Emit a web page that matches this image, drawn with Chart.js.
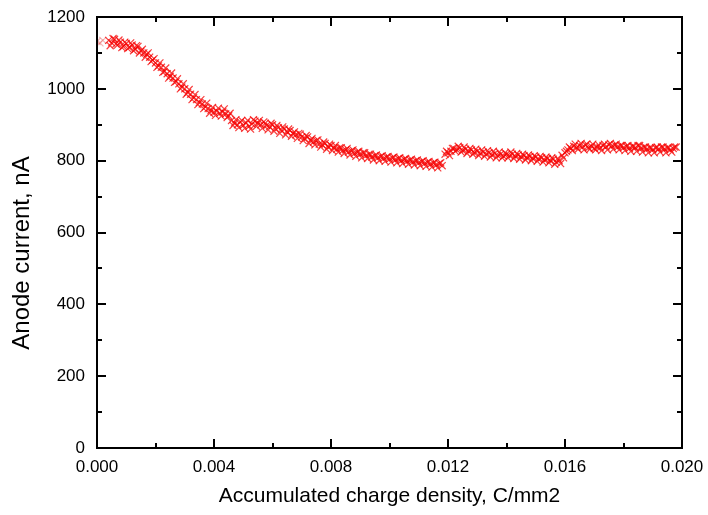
<!DOCTYPE html>
<html>
<head>
<meta charset="utf-8">
<script src="https://cdn.jsdelivr.net/npm/chart.js@4/dist/chart.umd.min.js"></script>
<style>
  html, body { margin: 0; padding: 0; background: #fff; }
  #wrap { width: 708px; height: 515px; }
</style>
</head>
<body>
<div id="wrap"><canvas id="c" width="708" height="515"></canvas></div>
<script>
// ---- Data ----
const chargeDensity = [
  0.0000, 0.0001, 0.0002,
  0.0004, 0.0005, 0.0006, 0.0007, 0.0008, 0.0009, 0.0010, 0.0011, 0.0012, 0.0013, 0.0014, 0.0015,
  0.0016, 0.0017, 0.0018, 0.0019, 0.0020, 0.0021, 0.0022, 0.0023, 0.0024, 0.0025, 0.0026, 0.0027,
  0.0028, 0.0029, 0.0030, 0.0031, 0.0032, 0.0033, 0.0034, 0.0035, 0.0036, 0.0037, 0.0038, 0.0039,
  0.0040, 0.0041, 0.0042, 0.0043, 0.0044, 0.0045, 0.0046, 0.0047, 0.0048, 0.0049, 0.0050, 0.0051,
  0.0052, 0.0053, 0.0054, 0.0055, 0.0056, 0.0057, 0.0058, 0.0059, 0.0060, 0.0061, 0.0062, 0.0063,
  0.0064, 0.0065, 0.0066, 0.0067, 0.0068, 0.0069, 0.0070, 0.0071, 0.0072, 0.0073, 0.0074, 0.0075,
  0.0076, 0.0077, 0.0078, 0.0079, 0.0080, 0.0081, 0.0082, 0.0083, 0.0084, 0.0085, 0.0086, 0.0087,
  0.0088, 0.0089, 0.0090, 0.0091, 0.0092, 0.0093, 0.0094, 0.0095, 0.0096, 0.0097, 0.0098, 0.0099,
  0.0100, 0.0101, 0.0102, 0.0103, 0.0104, 0.0105, 0.0106, 0.0107, 0.0108, 0.0109, 0.0110, 0.0111,
  0.0112, 0.0113, 0.0114, 0.0115, 0.0116, 0.0117, 0.0118,
  0.0119, 0.0120, 0.0121, 0.0122, 0.0123, 0.0124, 0.0125, 0.0126, 0.0127, 0.0128, 0.0129, 0.0130,
  0.0131, 0.0132, 0.0133, 0.0134, 0.0135, 0.0136, 0.0137, 0.0138, 0.0139, 0.0140, 0.0141, 0.0142,
  0.0143, 0.0144, 0.0145, 0.0146, 0.0147, 0.0148, 0.0149, 0.0150, 0.0151, 0.0152, 0.0153, 0.0154,
  0.0155, 0.0156, 0.0157, 0.0158, 0.0159, 0.0160, 0.0161, 0.0162, 0.0163, 0.0164, 0.0165, 0.0166,
  0.0167, 0.0168, 0.0169, 0.0170, 0.0171, 0.0172, 0.0173, 0.0174, 0.0175, 0.0176, 0.0177, 0.0178,
  0.0179, 0.0180, 0.0181, 0.0182, 0.0183, 0.0184, 0.0185, 0.0186, 0.0187, 0.0188, 0.0189, 0.0190,
  0.0191, 0.0192, 0.0193, 0.0194, 0.0195, 0.0196, 0.0197, 0.0198
];
const anodeCurrent = [
  1132, 1128, 1135,
  1135, 1128, 1138, 1122, 1130, 1118, 1126, 1115, 1122, 1110, 1118, 1105,
  1100, 1096, 1088, 1080, 1072, 1064, 1060, 1048, 1042, 1035, 1030, 1020,
  1014, 1005, 1000, 990, 985, 975, 970, 962, 958, 950, 945, 940,
  935, 938, 932, 936, 930, 925, 912, 905, 900, 908, 898, 905,
  896, 902, 910, 905, 900, 908, 898, 895, 900, 890, 892, 885,
  888, 880, 884, 876, 872, 876, 866, 862, 866, 856, 852, 856,
  846, 844, 848, 838, 842, 836, 832, 836, 828, 830, 824, 828,
  820, 824, 818, 822, 814, 818, 810, 814, 808, 812, 806, 810,
  804, 808, 802, 806, 800, 804, 798, 802, 796, 800, 794, 798,
  792, 796, 790, 794, 788, 792, 786,
  818, 822, 826, 834, 830, 836, 828, 832, 826, 830, 822, 826,
  820, 824, 818, 822, 816, 820, 814, 818, 812, 818, 814, 818,
  812, 816, 810, 814, 808, 812, 806, 810, 804, 808, 802, 806,
  800, 804, 796, 800, 815, 822, 830, 834, 840, 836, 842, 838,
  844, 836, 840, 834, 838, 836, 842, 838, 844, 840, 844, 838,
  842, 836, 840, 834, 840, 836, 842, 834, 838, 832, 836, 830,
  836, 832, 838, 832, 836, 830, 834, 838
];
// interleaved readings (between the ones above)
const chargeDensityB = [
  0.00045, 0.00055, 0.00065, 0.00075, 0.00085, 0.00095, 0.00105, 0.00115, 0.00125, 0.00135, 0.00145, 0.00155,
  0.00165, 0.00175, 0.00185, 0.00195, 0.00205, 0.00215, 0.00225, 0.00235, 0.00245, 0.00255, 0.00265, 0.00275,
  0.00285, 0.00295, 0.00305, 0.00315, 0.00325, 0.00335, 0.00345, 0.00355, 0.00365, 0.00375, 0.00385, 0.00395,
  0.00405, 0.00415, 0.00425, 0.00435, 0.00445, 0.00455, 0.00465, 0.00475, 0.00485, 0.00495, 0.00505, 0.00515,
  0.00525, 0.00535, 0.00545, 0.00555, 0.00565, 0.00575, 0.00585, 0.00595, 0.00605, 0.00615, 0.00625, 0.00635,
  0.00645, 0.00655, 0.00665, 0.00675, 0.00685, 0.00695, 0.00705, 0.00715, 0.00725, 0.00735, 0.00745, 0.00755,
  0.00765, 0.00775, 0.00785, 0.00795, 0.00805, 0.00815, 0.00825, 0.00835, 0.00845, 0.00855, 0.00865, 0.00875,
  0.00885, 0.00895, 0.00905, 0.00915, 0.00925, 0.00935, 0.00945, 0.00955, 0.00965, 0.00975, 0.00985, 0.00995,
  0.01005, 0.01015, 0.01025, 0.01035, 0.01045, 0.01055, 0.01065, 0.01075, 0.01085, 0.01095, 0.01105, 0.01115,
  0.01125, 0.01135, 0.01145, 0.01155, 0.01165, 0.01175,
  0.01195, 0.01205, 0.01215, 0.01225, 0.01235, 0.01245, 0.01255, 0.01265, 0.01275, 0.01285, 0.01295, 0.01305,
  0.01315, 0.01325, 0.01335, 0.01345, 0.01355, 0.01365, 0.01375, 0.01385, 0.01395, 0.01405, 0.01415, 0.01425,
  0.01435, 0.01445, 0.01455, 0.01465, 0.01475, 0.01485, 0.01495, 0.01505, 0.01515, 0.01525, 0.01535, 0.01545,
  0.01555, 0.01565, 0.01575, 0.01585, 0.01595, 0.01605, 0.01615, 0.01625, 0.01635, 0.01645, 0.01655, 0.01665,
  0.01675, 0.01685, 0.01695, 0.01705, 0.01715, 0.01725, 0.01735, 0.01745, 0.01755, 0.01765, 0.01775, 0.01785,
  0.01795, 0.01805, 0.01815, 0.01825, 0.01835, 0.01845, 0.01855, 0.01865, 0.01875, 0.01885, 0.01895, 0.01905,
  0.01915, 0.01925, 0.01935, 0.01945, 0.01955, 0.01965, 0.01975
];
const anodeCurrentB = [
  1120, 1140, 1125, 1136, 1115, 1130, 1112, 1128, 1106, 1120, 1100, 1110,
  1088, 1100, 1076, 1084, 1060, 1072, 1046, 1058, 1030, 1044, 1018, 1028,
  1000, 1014, 985, 998, 970, 984, 956, 970, 945, 960, 932, 948,
  926, 946, 924, 944, 920, 932, 898, 914, 892, 912, 890, 912,
  888, 914, 896, 912, 890, 904, 886, 904, 882, 898, 876, 894,
  872, 888, 868, 880, 862, 874, 856, 870, 848, 862, 844, 858,
  838, 852, 832, 846, 828, 842, 824, 836, 820, 834, 816, 830,
  812, 826, 808, 822, 806, 818, 802, 816, 800, 814, 798, 812,
  796, 810, 794, 808, 792, 806, 790, 804, 788, 802, 786, 800,
  784, 798, 782, 796, 780, 794,
  826, 814, 834, 826, 840, 824, 838, 820, 834, 818, 832, 814,
  830, 812, 828, 810, 826, 808, 824, 808, 822, 808, 824, 806,
  820, 804, 818, 802, 816, 800, 814, 798, 812, 796, 810, 794,
  808, 790, 806, 792, 808, 826, 838, 828, 846, 832, 848, 830,
  846, 832, 846, 830, 844, 828, 846, 830, 848, 832, 846, 830,
  842, 828, 842, 826, 840, 826, 842, 824, 838, 822, 836, 822,
  838, 824, 838, 822, 836, 824, 838
];
const xTickValues = [0.000, 0.004, 0.008, 0.012, 0.016, 0.020];
const xMinorTickValues = [0.002, 0.006, 0.010, 0.014, 0.018];
const yTickValues = [0, 200, 400, 600, 800, 1000, 1200];
const yMinorTickValues = [100, 300, 500, 700, 900, 1100];
const xTitle = 'Accumulated charge density, C/mm2';
const yTitle = 'Anode current, nA';
const faintLeadingPoints = 3; // first few readings look paler in the reference

const points = chargeDensity.map((x, i) => ({ x: x, y: anodeCurrent[i] }))
  .concat(chargeDensityB.map((x, i) => ({ x: x, y: anodeCurrentB[i] })));

const FONT = "'Liberation Sans', Arial, sans-serif";

// Inward ticks on all four sides plus frame, drawn through the chart's own scales
const frameTicks = {
  id: 'frameTicks',
  afterDatasetsDraw(chart) {
    const { ctx, chartArea: a, scales } = chart;
    const xs = scales.x, ys = scales.y;
    ctx.save();
    ctx.strokeStyle = '#000';
    ctx.lineWidth = 2;
    ctx.beginPath();
    const mk = (vals, len) => {
      vals.forEach(v => {
        const px = Math.round(xs.getPixelForValue(v));
        ctx.moveTo(px, a.bottom); ctx.lineTo(px, a.bottom - len);
        ctx.moveTo(px, a.top); ctx.lineTo(px, a.top + len);
      });
    };
    const mky = (vals, len) => {
      vals.forEach(v => {
        const py = Math.round(ys.getPixelForValue(v));
        ctx.moveTo(a.left, py); ctx.lineTo(a.left + len, py);
        ctx.moveTo(a.right, py); ctx.lineTo(a.right - len, py);
      });
    };
    mk(xTickValues, 9); mk(xMinorTickValues, 5);
    mky(yTickValues, 9); mky(yMinorTickValues, 5);
    ctx.stroke();
    ctx.strokeRect(a.left, a.top, a.right - a.left, a.bottom - a.top);

    // rotated y-axis title (as text)
    ctx.fillStyle = '#000';
    ctx.font = '24px ' + FONT;
    ctx.textAlign = 'center';
    ctx.textBaseline = 'middle';
    ctx.translate(22, 253);
    ctx.rotate(-Math.PI / 2);
    ctx.fillText(yTitle, 0, 0);
    ctx.restore();
  }
};

const markerColor = c => c.dataIndex < faintLeadingPoints ? 'rgba(230,90,90,0.45)' : 'rgba(245,0,0,0.75)';

new Chart(document.getElementById('c'), {
  type: 'scatter',
  data: {
    datasets: [{
      data: points,
      pointStyle: 'crossRot',
      pointRadius: 5,
      borderWidth: 1.2,
      borderColor: markerColor,
      backgroundColor: markerColor
    }]
  },
  options: {
    responsive: false,
    animation: false,
    layout: { padding: { top: 17, right: 26, bottom: 0, left: 0 } },
    plugins: { legend: { display: false }, tooltip: { enabled: false } },
    scales: {
      x: {
        type: 'linear',
        min: 0, max: 0.02,
        afterBuildTicks: s => { s.ticks = xTickValues.map(v => ({ value: v })); },
        afterFit: s => { s.height = 67; s.paddingLeft = 0; s.paddingRight = 0; },
        grid: { display: false, drawTicks: false },
        border: { display: false },
        ticks: {
          padding: 9,
          color: '#000',
          font: { family: FONT, size: 17 },
          maxRotation: 0,
          callback: v => v.toFixed(3)
        },
        title: {
          display: true,
          text: xTitle,
          color: '#000',
          font: { family: FONT, size: 21 },
          padding: { top: 12, bottom: 6 }
        }
      },
      y: {
        type: 'linear',
        min: 0, max: 1200,
        afterBuildTicks: s => { s.ticks = yTickValues.map(v => ({ value: v })); },
        afterFit: s => { s.width = 97; s.paddingTop = 0; s.paddingBottom = 0; },
        grid: { display: false, drawTicks: false },
        border: { display: false },
        ticks: {
          padding: 12,
          color: '#000',
          font: { family: FONT, size: 17 },
          callback: v => String(v)
        },
        title: { display: false }
      }
    }
  },
  plugins: [frameTicks]
});
</script>
</body>
</html>
